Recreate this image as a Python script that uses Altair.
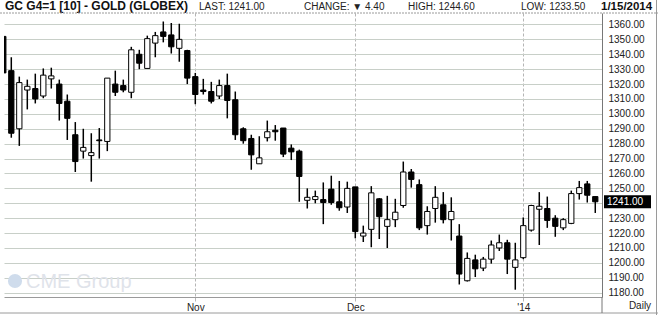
import altair as alt
import pandas as pd

# ---------------- data ----------------
idx = list(range(75))
opens = [1352, 1329, 1290, 1316, 1317, 1312, 1323.5, 1320, 1308.5, 1286,
         1275, 1272, 1282.5, 1281.5, 1320, 1319, 1314.5, 1340, 1330.5, 1347.5,
         1355, 1353, 1344, 1342.5, 1325, 1316, 1315, 1312, 1319, 1309.5,
         1290, 1283.5, 1266.5, 1284, 1289, 1290.5, 1277, 1275, 1242, 1242.5,
         1242.5, 1249.5, 1241, 1237.5, 1251, 1218, 1222.5, 1243, 1224.5, 1229,
         1238.5, 1261, 1252.5, 1225, 1236.5, 1239, 1229, 1218, 1188, 1202,
         1196.5, 1202.5, 1210, 1213.5, 1197, 1203.5, 1222, 1236, 1236.5, 1230,
         1223.5, 1226.5, 1246.5, 1253, 1244.5]
highs = [1352, 1338, 1325, 1323, 1327, 1330.5, 1331, 1323, 1313, 1294.5,
         1290, 1287, 1290.5, 1324, 1329, 1323, 1345, 1343, 1352.5, 1355,
         1362, 1361, 1360.5, 1343, 1327.5, 1323.5, 1321.5, 1323, 1327, 1315,
         1291, 1286, 1285, 1295.5, 1292.5, 1290.5, 1279.5, 1276, 1250, 1248.5,
         1254, 1258.5, 1255, 1254.5, 1251, 1225, 1251.5, 1243.5, 1245, 1243,
         1268, 1263, 1256, 1238, 1251.5, 1247.5, 1244, 1226, 1207, 1205.5,
         1204, 1215, 1219, 1215.5, 1213.5, 1230.5, 1239, 1247.5, 1244.5, 1232,
         1230, 1248.5, 1255, 1255, 1244.6]
lows = [1327.5, 1284, 1278.5, 1303, 1307, 1310.5, 1317, 1295.5, 1282.5, 1261,
        1270, 1254.5, 1270, 1275, 1312, 1314.5, 1310.5, 1330, 1330.5, 1338,
        1348, 1340.5, 1335, 1320, 1306.5, 1313, 1307, 1310, 1297, 1282.5,
        1280, 1262.5, 1266.5, 1281.5, 1282, 1271, 1269, 1241, 1236.5, 1240,
        1226, 1239, 1235, 1233.5, 1216.5, 1214, 1210.5, 1216, 1210, 1224,
        1237, 1250.5, 1222, 1219, 1227, 1226.5, 1215, 1185.5, 1187.5, 1190.5,
        1194.5, 1199.5, 1208, 1192.5, 1182, 1202.5, 1221, 1212, 1223.5, 1217.5,
        1222, 1226, 1242.5, 1240.5, 1233.5]
closes = [1327.5, 1287, 1321, 1318.5, 1310, 1326, 1325.5, 1307, 1297, 1268,
          1277.5, 1274, 1282, 1324, 1314.5, 1316, 1343, 1334, 1350.5, 1352.5,
          1352, 1345, 1350, 1324, 1313, 1315, 1308.5, 1319, 1309, 1286,
          1282, 1272.5, 1270.5, 1288, 1288, 1273, 1274.5, 1258, 1244, 1244.5,
          1240.5, 1240.5, 1237, 1250, 1221, 1220, 1247, 1231, 1229, 1234,
          1261, 1256, 1223.5, 1234.5, 1244, 1229, 1234.5, 1192.5, 1203, 1196,
          1202.5, 1212, 1213.5, 1202.5, 1202, 1225, 1238.5, 1238, 1228.5, 1224.5,
          1229, 1246.5, 1250.5, 1245.4, 1241]

month_ticks = [24, 44, 65]
month_labels = ["Nov", "Dec", "'14"]
price_ticks = list(range(1180, 1361, 10))

title_text = "GC G4=1 [10] - GOLD (GLOBEX)"
date_text = "1/15/2014"

FONT = "Liberation Sans"

df = pd.DataFrame({"i": idx, "open": opens, "high": highs,
                   "low": lows, "close": closes})
df["dir"] = ["up" if c > o else "down" for o, c in zip(opens, closes)]

last = closes[-1]
change = closes[-2] - closes[-1]
stats = [
    (f"LAST: {last:.2f}", 199),
    (f"CHANGE: \u25BC {change:.2f}", 304),
    (f"HIGH: {highs[-1]:.2f}", 408),
    (f"LOW: {lows[-1]:.2f}", 521),
]

xs = alt.Scale(domain=[0.0875, 74.84], nice=False, zero=False)
ys = alt.Scale(domain=[1177.1, 1367.7], nice=False, zero=False)

label_expr = " : ".join(
    f"datum.value == {t} ? \"{l}\"" for t, l in zip(month_ticks, month_labels)
) + " : ''"

xaxis = alt.Axis(values=month_ticks, labelExpr=label_expr, title=None,
                 grid=True, gridColor="#b5b5b5", gridDash=[3, 2], gridWidth=1,
                 domainColor="#9a9a9a", tickColor="#b5b5b5", tickSize=4,
                 labelFont=FONT, labelFontSize=10, labelColor="#222",
                 labelPadding=1, labelFlush=False)
yaxis = alt.Axis(orient="right", values=price_ticks, title=None,
                 labelExpr="datum.value == 1240 ? '' : format(datum.value, '.2f')",
                 grid=True, gridColor="#c8cfc8", gridWidth=1,
                 domainColor="#777", ticks=False, labelPadding=6,
                 labelFont=FONT, labelFontSize=10, labelColor="#222")

base = alt.Chart(df)

wicks = base.mark_rule(color="black", strokeWidth=1.5, clip=True).encode(
    x=alt.X("i:Q", scale=xs, axis=xaxis),
    y=alt.Y("low:Q", scale=ys, axis=yaxis),
    y2="high:Q",
)

bodies = base.transform_calculate(
    xa="datum.i - 0.33", xb="datum.i + 0.33"
).mark_rect(stroke="black", strokeWidth=1, clip=True).encode(
    x=alt.X("xa:Q", scale=xs, axis=xaxis),
    x2="xb:Q",
    y=alt.Y("open:Q", scale=ys, axis=yaxis),
    y2="close:Q",
    fill=alt.Fill("dir:N", scale=alt.Scale(domain=["up", "down"],
                                           range=["white", "black"]),
                  legend=None),
)

# current price marker on the axis
last_df = pd.DataFrame({"close": [last], "label": [f"{last:.2f}"]})
box = alt.Chart(last_df).transform_calculate(
    ya="datum.close - 4.4", yb="datum.close + 4.4"
).mark_rect(color="black").encode(
    x=alt.value(600), x2=alt.value(647),
    y=alt.Y("ya:Q", scale=ys, axis=yaxis), y2="yb:Q",
)
box_text = alt.Chart(last_df).mark_text(
    color="white", font=FONT, fontSize=10, align="left", baseline="middle"
).encode(
    x=alt.value(603), y=alt.Y("close:Q", scale=ys, axis=yaxis), text="label:N"
)

# header
hdr = alt.Chart(pd.DataFrame({"t": [title_text]})).mark_text(
    font=FONT, fontSize=12, fontWeight="bold", align="left",
    baseline="alphabetic", color="#111"
).encode(x=alt.value(1), y=alt.value(-3), text="t:N")

stat_layers = [
    alt.Chart(pd.DataFrame({"t": [s]})).mark_text(
        font=FONT, fontSize=10, align="left", baseline="alphabetic", color="#222"
    ).encode(x=alt.value(px - 4), y=alt.value(-3), text="t:N")
    for s, px in stats
]

date_lbl = alt.Chart(pd.DataFrame({"t": [date_text]})).mark_text(
    font=FONT, fontSize=11.5, fontWeight="bold", align="left",
    baseline="alphabetic", color="#111"
).encode(x=alt.value(597), y=alt.value(-3), text="t:N")

daily = alt.Chart(pd.DataFrame({"t": ["Daily"]})).mark_text(
    font=FONT, fontSize=10, align="center", baseline="top", color="#222"
).encode(x=alt.value(636), y=alt.value(288), text="t:N")

# watermark
wm_text = alt.Chart(pd.DataFrame({"t": ["CME Group"]})).mark_text(
    font=FONT, fontSize=20, align="left", baseline="alphabetic", color="#dfe3ea"
).encode(x=alt.value(22), y=alt.value(275), text="t:N")
wm_globe = alt.Chart(pd.DataFrame({"t": [1]})).mark_circle(
    color="#cfdcec", opacity=1, size=200
).encode(x=alt.value(11), y=alt.value(268))

# frame lines
top_line = alt.Chart(pd.DataFrame({"t": [1]})).mark_rule(
    color="#9a9a9a", strokeWidth=1, strokeDash=[2, 1]
).encode(x=alt.value(-4), x2=alt.value(654), y=alt.value(0))
bottom_line = alt.Chart(pd.DataFrame({"t": [1]})).mark_rule(
    color="#9a9a9a", strokeWidth=1
).encode(x=alt.value(-4), x2=alt.value(654), y=alt.value(300))
right_line = alt.Chart(pd.DataFrame({"t": [1]})).mark_rule(
    color="#9a9a9a", strokeWidth=1
).encode(x=alt.value(652.5), y=alt.value(-13), y2=alt.value(302))
axis_ext = alt.Chart(pd.DataFrame({"t": [1]})).mark_rule(
    color="#777", strokeWidth=1
).encode(x=alt.value(598), y=alt.value(284), y2=alt.value(300))

chart = alt.layer(
    wm_globe, wm_text, wicks, bodies, box, box_text, hdr, *stat_layers,
    date_lbl, daily, top_line, bottom_line, right_line, axis_ext
).properties(
    width=598, height=284,
    autosize=alt.AutoSizeParams(type="none"),
    padding={"left": 4, "top": 13, "right": 56, "bottom": 18},
    background="white",
).configure_view(stroke=None)

chart.save("out.html", embed_options={"renderer": "svg", "actions": False})
